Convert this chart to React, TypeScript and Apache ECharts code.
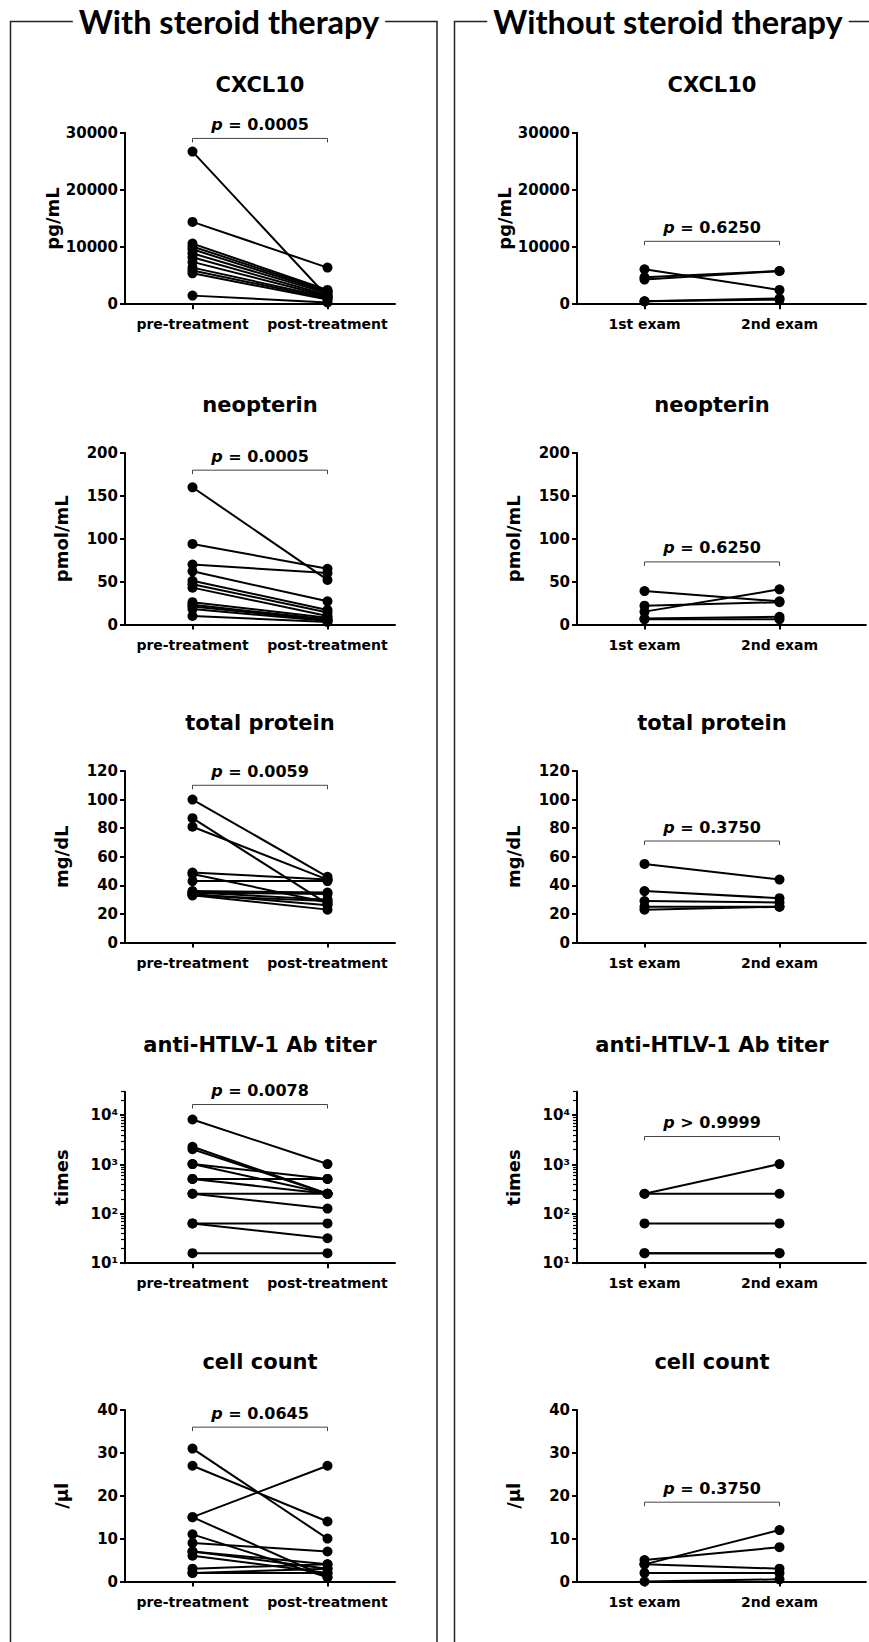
import React, { useEffect, useRef } from "react";
import * as echarts from "echarts";

// ---------- data ----------
const LEFT_GROUPS = ["pre-treatment", "post-treatment"];
const RIGHT_GROUPS = ["1st exam", "2nd exam"];
const PANEL_TITLES = ["CXCL10", "neopterin", "total protein", "anti-HTLV-1 Ab titer", "cell count"];
const UNITS = ["pg/mL", "pmol/mL", "mg/dL", "times", "/\u03bcl"];
const Y_MAX = [30000, 200, 120, 30000, 40];
const Y_INTERVAL = [10000, 50, 20, 0, 10];
const LOG_PANEL = [false, false, false, true, false];
const LOG_MAJOR = [10, 100, 1000, 10000];
const LOG_MINOR = [20, 30, 40, 50, 60, 70, 80, 90, 200, 300, 400, 500, 600, 700, 800, 900, 2000, 3000, 4000, 5000, 6000, 7000, 8000, 9000, 20000, 30000];

const P_LEFT = ["= 0.0005", "= 0.0005", "= 0.0059", "= 0.0078", "= 0.0645"];
const P_RIGHT = ["= 0.6250", "= 0.6250", "= 0.3750", "> 0.9999", "= 0.3750"];
const BRACKET_LEFT = [29000, 180, 110, 16500, 36];
const BRACKET_RIGHT = [11000, 73, 71, 3700, 18.5];

// with steroid therapy (pre -> post)
const cxclPre = [26700, 14400, 10600, 10100, 9600, 8900, 8200, 7400, 6400, 5900, 5400, 1500];
const cxclPost = [1300, 6400, 2500, 2300, 2100, 1900, 1600, 1400, 1200, 1000, 800, 300];
const neoPre = [160, 94, 70, 62, 51, 47, 43, 26, 23, 21, 18, 10];
const neoPost = [52, 65, 60, 27, 17, 14, 10, 8, 6, 5, 4, 3];
const tpPre = [100, 87, 81, 49, 48, 43, 36, 35, 35, 34, 33, 33];
const tpPost = [46, 27, 44, 44, 28, 43, 35, 34, 30, 26, 29, 23];
const abPre = [8192, 2300, 2048, 1024, 1024, 512, 512, 256, 256, 64, 64, 16];
const abPost = [1024, 256, 256, 512, 256, 512, 256, 256, 128, 64, 32, 16];
const cellPre = [31, 27, 15, 15, 11, 9, 7, 7, 6, 3, 2, 2];
const cellPost = [10, 14, 27, 1, 1, 7, 4, 3, 2, 4, 3, 2];

// without steroid therapy (1st -> 2nd exam)
const cxclFirst = [4300, 4700, 6100, 500, 500];
const cxclSecond = [5800, 5800, 2500, 1000, 800];
const neoFirst = [39, 22, 15, 7, 6];
const neoSecond = [27, 26, 41, 9, 6];
const tpFirst = [55, 36, 29, 25, 23];
const tpSecond = [44, 31, 28, 25, 25];
const abFirst = [256, 256, 64, 16, 16];
const abSecond = [1024, 256, 64, 16, 16];
const cellFirst = [4, 5, 4, 2, 0];
const cellSecond = [12, 8, 3, 2, 0.5];

const LEFT_DATA = [
  [cxclPre, cxclPost],
  [neoPre, neoPost],
  [tpPre, tpPost],
  [abPre, abPost],
  [cellPre, cellPost],
];
const RIGHT_DATA = [
  [cxclFirst, cxclSecond],
  [neoFirst, neoSecond],
  [tpFirst, tpSecond],
  [abFirst, abSecond],
  [cellFirst, cellSecond],
];

// ---------- layout ----------
const FONT = "DejaVu Sans";
const COL_AXIS_X = [125, 577];
const BAND = 135;
const X_MAX = [1.5, 1.64];
const ROW_TOP = [132.7, 453, 771, 1091.7, 1410];
const GRID_H = 171.5;
const TITLE_Y = [85, 404.5, 722.7, 1045, 1361.7];
const SUP: Record<string, string> = { "1": "\u00b9", "2": "\u00b2", "3": "\u00b3", "4": "\u2074" };

function buildOption() {
  const grid: any[] = [];
  const xAxis: any[] = [];
  const yAxis: any[] = [];
  const series: any[] = [];
  const graphic: any[] = [];

  graphic.push({
    type: "rect",
    silent: true,
    shape: { x: 10.5, y: 21.5, width: 426.5, height: 1700 },
    style: { fill: "none", stroke: "#222", lineWidth: 1.5 },
  });
  graphic.push({
    type: "rect",
    silent: true,
    shape: { x: 454.5, y: 21.5, width: 440, height: 1700 },
    style: { fill: "none", stroke: "#222", lineWidth: 1.5 },
  });
  const header = (text: string, x: number) => ({
    type: "text",
    silent: true,
    x,
    y: 21.5,
    z: 10,
    style: {
      text,
      fontFamily: "Lato",
      fontWeight: "bold",
      fontSize: 32.5,
      fill: "#000",
      align: "center",
      verticalAlign: "middle",
      backgroundColor: "#fff",
      padding: [0, 6],
    },
  });
  graphic.push(header("With steroid therapy", 229));
  graphic.push(header("Without steroid therapy", 668));

  for (let col = 0; col < 2; col++) {
    const cats = col === 0 ? LEFT_GROUPS : RIGHT_GROUPS;
    const data = col === 0 ? LEFT_DATA : RIGHT_DATA;
    const pTexts = col === 0 ? P_LEFT : P_RIGHT;
    const brackets = col === 0 ? BRACKET_LEFT : BRACKET_RIGHT;
    for (let row = 0; row < 5; row++) {
      const gi = grid.length;
      const left = COL_AXIS_X[col];
      const xMax = X_MAX[col];
      const width = (xMax + 0.5) * BAND;
      grid.push({ left, top: ROW_TOP[row], width, height: GRID_H, containLabel: false, outerBoundsMode: "none" });

      graphic.push({
        type: "text",
        silent: true,
        x: left + BAND,
        y: TITLE_Y[row],
        style: {
          text: PANEL_TITLES[row],
          fontFamily: FONT,
          fontWeight: "bold",
          fontSize: 21,
          fill: "#000",
          align: "center",
          verticalAlign: "middle",
        },
      });

      xAxis.push({
        type: "value",
        gridIndex: gi,
        min: -0.5,
        max: xMax,
        axisLine: { show: true, onZero: false, lineStyle: { color: "#000", width: 2 } },
        axisTick: { show: true, customValues: [0, 1], length: 5, lineStyle: { color: "#000", width: 2 } },
        axisLabel: {
          customValues: [0, 1],
          formatter: (v: number) => cats[Math.round(v)] ?? "",
          margin: 13,
          fontSize: 14,
          fontWeight: "bold",
          fontFamily: FONT,
          color: "#000",
        },
        splitLine: { show: false },
      });

      const isLog = LOG_PANEL[row];
      const yi = yAxis.length;
      const common = {
        gridIndex: gi,
        position: "left",
        name: UNITS[row],
        nameLocation: "middle",
        nameGap: 55,
        nameRotate: 90,
        nameTextStyle: { fontSize: 18, fontWeight: "bold", fontFamily: FONT, color: "#000" },
        axisLine: { show: true, onZero: false, lineStyle: { color: "#000", width: 2 } },
        splitLine: { show: false },
      };
      const tickLabel = {
        margin: 7,
        fontSize: 15,
        fontWeight: "bold",
        fontFamily: FONT,
        color: "#000",
      };
      if (isLog) {
        yAxis.push({
          ...common,
          type: "log",
          logBase: 10,
          min: 10,
          max: Y_MAX[row],
          axisTick: { show: true, customValues: LOG_MAJOR, length: 5, lineStyle: { color: "#000", width: 2 } },
          axisLabel: {
            ...tickLabel,
            customValues: LOG_MAJOR,
            formatter: (v: number) => {
              const e = Math.round(Math.log10(v));
              return "10" + (SUP[String(e)] || "");
            },
          },
        });
        yAxis.push({
          gridIndex: gi,
          position: "left",
          offset: 0,
          type: "log",
          logBase: 10,
          min: 10,
          max: Y_MAX[row],
          axisLine: { show: false, onZero: false },
          axisTick: { show: true, customValues: LOG_MINOR, length: 4, lineStyle: { color: "#000", width: 1.2 } },
          axisLabel: { show: false },
          splitLine: { show: false },
        });
      } else {
        yAxis.push({
          ...common,
          type: "value",
          min: 0,
          max: Y_MAX[row],
          interval: Y_INTERVAL[row],
          axisTick: { show: true, length: 5, lineStyle: { color: "#000", width: 2 } },
          axisLabel: { ...tickLabel, formatter: (v: number) => String(v) },
        });
      }

      const [a, b] = data[row];
      for (let i = 0; i < a.length; i++) {
        series.push({
          type: "line",
          xAxisIndex: gi,
          yAxisIndex: yi,
          data: [
            [0, a[i]],
            [1, b[i]],
          ],
          symbol: "circle",
          symbolSize: 10,
          itemStyle: { color: "#000", opacity: 1 },
          lineStyle: { color: "#000", width: 2 },
          silent: true,
          z: 3,
        });
      }

      const v = brackets[row];
      const low = isLog ? v * 0.83 : v - (Y_MAX[row] * 4) / GRID_H;
      series.push({
        type: "line",
        xAxisIndex: gi,
        yAxisIndex: yi,
        data: [
          [0, low],
          [0, v],
          [1, v],
          [1, low],
        ],
        symbol: "none",
        lineStyle: { color: "#444", width: 1 },
        silent: true,
        z: 2,
      });
      series.push({
        type: "scatter",
        xAxisIndex: gi,
        yAxisIndex: yi,
        data: [[0.5, v]],
        symbolSize: 0,
        itemStyle: { color: "#000", opacity: 1 },
        silent: true,
        label: {
          show: true,
          position: "top",
          distance: 6,
          opacity: 1,
          formatter: "{i|p} " + pTexts[row],
          fontSize: 16,
          fontWeight: "bold",
          fontFamily: FONT,
          color: "#000",
          rich: {
            i: { fontSize: 16, fontWeight: "bold", fontStyle: "italic", fontFamily: FONT, color: "#000" },
          },
        },
      });
    }
  }

  return {
    animation: false,
    backgroundColor: "#fff",
    grid,
    xAxis,
    yAxis,
    series,
    graphic,
  };
}

export default function App() {
  const ref = useRef<HTMLDivElement>(null);
  useEffect(() => {
    document.body.style.margin = "0";
    if (!ref.current) return;
    const chart = echarts.init(ref.current, undefined, { renderer: "svg" });
    chart.setOption(buildOption() as any);
    return () => chart.dispose();
  }, []);
  return <div ref={ref} style={{ width: 869, height: 1642 }} />;
}
